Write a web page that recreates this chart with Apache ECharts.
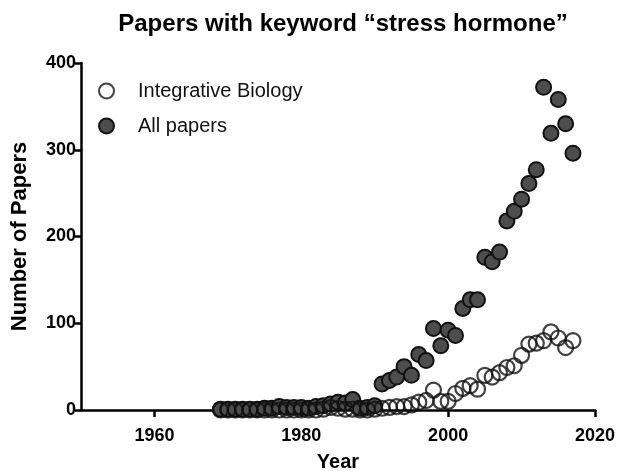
<!DOCTYPE html>
<html>
<head>
<meta charset="utf-8">
<script src="https://cdn.jsdelivr.net/npm/echarts@6/dist/echarts.min.js"></script>
<style>
  html, body { margin: 0; padding: 0; background: #fff; }
  #main { width: 619px; height: 471px; }
</style>
</head>
<body>
<div id="main"></div>
<script>
// years 1969..2017
var years = [
  1969, 1970, 1971, 1972, 1973, 1974, 1975, 1976, 1977, 1978,
  1979, 1980, 1981, 1982, 1983, 1984, 1985, 1986, 1987, 1988,
  1989, 1990, 1991, 1992, 1993, 1994, 1995, 1996, 1997, 1998,
  1999, 2000, 2001, 2002, 2003, 2004, 2005, 2006, 2007, 2008,
  2009, 2010, 2011, 2012, 2013, 2014, 2015, 2016, 2017
];

var allPapers = [
  1, 1, 1, 1, 1, 1, 2, 2, 4, 3,
  3, 3, 2, 4, 5, 7, 9, 8, 12, 2,
  3, 5, 30, 34, 38, 50, 40, 64, 57, 94,
  74, 92, 86, 117, 127, 127, 176, 171, 182, 218,
  229, 243, 261, 277, 372, 319, 358, 330, 296
];

var integrativeBiology = [
  0, 0, 0, 0, 0, 0, 0, 0, 0, 0,
  0, 0, 0, 0, 1, 3, 2, 1, 1, 0,
  0, 1, 2, 3, 4, 4, 6, 9, 11, 23,
  10, 10, 19, 25, 28, 24, 40, 38, 43, 49,
  51, 63, 76, 77, 80, 90, 83, 72, 80
];

var xTicks = [1960, 1980, 2000, 2020];

function pairs(vals) {
  return years.map(function (y, i) { return [y, vals[i]]; });
}

var chartDom = document.getElementById("main");
var myChart = echarts.init(chartDom);
var option;

var font = "Liberation Sans, Arial, sans-serif";

option = {
  animation: false,
  title: {
    text: "Papers with keyword \u201cstress hormone\u201d",
    left: 338,
    top: 7,
    textAlign: "center",
    textStyle: { fontFamily: font, fontWeight: "bold", fontSize: 24, color: "#000" }
  },
  legend: {
    orient: "vertical",
    left: 93,
    top: 76,
    itemWidth: 15,
    itemHeight: 15,
    itemGap: 15,
    textStyle: { fontFamily: font, fontSize: 20, color: "#111", padding: [0, 0, 0, 19] },
    data: ["Integrative Biology", "All papers"]
  },
  grid: { left: 81, right: 24, top: 63, bottom: 61, outerBoundsMode: "none" },
  xAxis: {
    type: "value",
    min: 1950,
    max: 2020,
    name: "Year",
    nameLocation: "middle",
    nameGap: 42,
    nameTextStyle: { fontFamily: font, fontWeight: "bold", fontSize: 20, color: "#000" },
    splitLine: { show: false },
    axisLine: { lineStyle: { color: "#000", width: 2.5 } },
    axisTick: { customValues: xTicks, length: 7, lineStyle: { color: "#000", width: 2.5 } },
    axisLabel: {
      customValues: xTicks,
      margin: 17,
      formatter: function (v) { return String(v); },
      fontFamily: font, fontWeight: "bold", fontSize: 18, color: "#000"
    }
  },
  yAxis: {
    type: "value",
    min: 0,
    max: 400,
    interval: 100,
    name: "Number of Papers",
    nameLocation: "middle",
    nameGap: 50,
    nameTextStyle: { fontFamily: font, fontWeight: "bold", fontSize: 22, color: "#000" },
    splitLine: { show: false },
    axisLine: { show: true, lineStyle: { color: "#000", width: 2.5 } },
    axisTick: { show: true, length: 6, lineStyle: { color: "#000", width: 2.5 } },
    axisLabel: { margin: 5, fontFamily: font, fontWeight: "bold", fontSize: 18, color: "#000" }
  },
  series: [
    {
      name: "Integrative Biology",
      type: "scatter",
      z: 3,
      symbol: "circle",
      symbolSize: 15,
      itemStyle: { color: "rgba(255,255,255,0)", borderColor: "#111", borderWidth: 2.2 },
      data: pairs(integrativeBiology)
    },
    {
      name: "All papers",
      type: "scatter",
      z: 2,
      symbol: "circle",
      symbolSize: 15,
      itemStyle: { color: "#4d4d4d", borderColor: "#111", borderWidth: 2, opacity: 1 },
      data: pairs(allPapers)
    }
  ]
};

option && myChart.setOption(option);
</script>
</body>
</html>
